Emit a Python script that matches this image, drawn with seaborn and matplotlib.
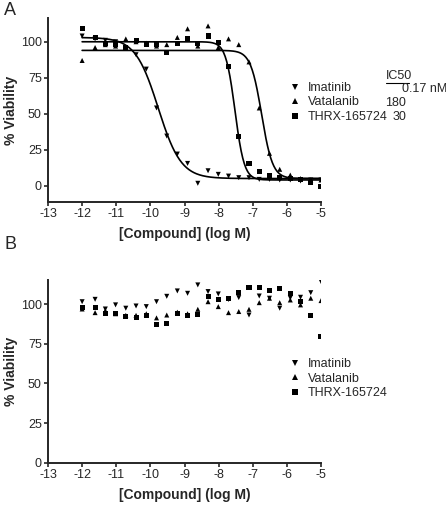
#importar bibliotecas
import numpy as np
import pandas as pd
import matplotlib
matplotlib.use('Agg')
import matplotlib.pyplot as plt
from matplotlib.lines import Line2D
import seaborn as sns

#dados (log M)
log_conc = [-12.0, -11.62, -11.32, -11.02, -10.72, -10.42, -10.12, -9.82,
            -9.52, -9.21, -8.91, -8.61, -8.31, -8.01, -7.71, -7.41,
            -7.11, -6.81, -6.51, -6.21, -5.90, -5.60, -5.30, -5.00]
compounds = ['Imatinib', 'Vatalanib', 'THRX-165724']
ic50_text = ['0.17 nM', '180', '30']

#painel A
imatinib_a = [104, 102, 101, 100, 96, 91, 81, 54, 34.5, 22, 15.5, 1.7,
              10.4, 7.9, 6.7, 5.6, 5.6, 4.4, 4.4, 4.0, 4.0, 3.3, 4.0, 4.0]
vatalanib_a = [87, 96, 98, 97, 102, 100, 99, 97, 98, 103, 109, 97,
               111, 96, 102, 98, 86, 54, 22.5, 11.4, 7.4, 5, 4, 4]
thrx_a = [109, 103, 98.6, 98.2, 96, 101, 98.2, 98.2, 92.6, 98.8, 102.3, 98.8,
          104, 99.3, 82.6, 34.5, 15.5, 9.7, 7.4, 6, 5, 4, 2, -0.2]

#painel B
imatinib_b = [101.6, 103.1, 97, 99.6, 97.5, 98.9, 98.5, 101.6, 105, 108.4, 106.9, 112.2,
              108, 106.5, 103, 104.2, 93.2, 105.2, 103.8, 97.5, 104, 104.4, 107.3, 114.3]
vatalanib_b = [97, 94.7, 96, 94, 93, 93, 94, 91.4, 93.2, 95, 94, 96.8,
               101.6, 98.5, 94.7, 95.4, 96.8, 101, 103.8, 101, 102.7, 99.6, 103.8, 102.3]
thrx_b = [98.1, 98.1, 94.3, 94.3, 92.2, 91.5, 93, 87.4, 88, 94.3, 92.6, 93.7,
          104.8, 102.7, 103.5, 107.5, 110.5, 110.5, 108.6, 109.7, 106.5, 101.6, 92.6, 79.5]

#parametros do ajuste (top, bottom, logIC50, hill)
fit_top = [103, 94, 100]
fit_bottom = [5, 5, 4]
fit_logic50 = [-9.77, -6.74, -7.52]
fit_hill = [1.3, 2.7, 3.2]

markers = {'Imatinib': 'v', 'Vatalanib': '^', 'THRX-165724': 's'}

def long_df(series):
    rows = []
    for name, vals in zip(compounds, series):
        for x, y in zip(log_conc, vals):
            rows.append({'logM': x, 'viab': y, 'comp': name})
    return pd.DataFrame(rows)

df_a = long_df([imatinib_a, vatalanib_a, thrx_a])
df_b = long_df([imatinib_b, vatalanib_b, thrx_b])

#curvas ajustadas
xs = np.linspace(-12, -5, 300)
curves = []
for i, name in enumerate(compounds):
    ys = fit_bottom[i] + (fit_top[i] - fit_bottom[i]) / (1 + 10 ** ((xs - fit_logic50[i]) * fit_hill[i]))
    curves.append(pd.DataFrame({'logM': xs, 'viab': ys, 'comp': name}))
df_fit = pd.concat(curves)

sns.set_style('ticks')
plt.rcParams['font.family'] = ['Liberation Sans', 'DejaVu Sans']
plt.rcParams['axes.unicode_minus'] = False

W, H = 446, 508
fig = plt.figure(figsize=(W / 100, H / 100), dpi=100)
ax_a = fig.add_axes([48 / W, 1 - 202 / H, 273 / W, 184 / H])
ax_b = fig.add_axes([48 / W, 1 - 462.7 / H, 273 / W, 182.7 / H])

sns.lineplot(data=df_fit, x='logM', y='viab', units='comp', estimator=None,
             color='black', linewidth=1.2, ax=ax_a, legend=False)
for ax, df in [(ax_a, df_a), (ax_b, df_b)]:
    sns.scatterplot(data=df, x='logM', y='viab', style='comp', markers=markers,
                    color='black', s=13, linewidth=0, ax=ax, legend=False)

ax_a.set_ylim(-11.3, 116.5)
ax_b.set_ylim(0, 115.3)
for ax in [ax_a, ax_b]:
    ax.set_xlim(-13, -5)
    ax.set_xticks(range(-13, -4))
    ax.set_yticks([0, 25, 50, 75, 100])
    for sp in ['top', 'right']:
        ax.spines[sp].set_visible(False)
    for sp in ['left', 'bottom']:
        ax.spines[sp].set_linewidth(1.4)
    ax.tick_params(length=3, width=1.2, labelsize=9, pad=1.5)
    ax.set_xlabel('[Compound] (log M)', fontsize=10, fontweight='bold', labelpad=5)
    ax.set_ylabel('% Viability', fontsize=10, fontweight='bold', labelpad=2)

#legendas
handles = [Line2D([], [], marker=markers[c], color='black', linestyle='none',
                  markersize=4.3, markeredgewidth=0)
           for c in compounds]
for ax, ytop in [(ax_a, 82), (ax_b, 358)]:
    ax.legend(handles, compounds, loc='upper left', bbox_to_anchor=(290 / W, 1 - ytop / H),
              bbox_transform=fig.transFigure, frameon=False, fontsize=9,
              handlelength=0.8, handletextpad=0.6, labelspacing=0.2,
              borderpad=0, borderaxespad=0)

fig.text(386 / W, 1 - 76 / H, 'IC50', fontsize=9, va='center', ha='left')
fig.add_artist(Line2D([386 / W, 409 / W], [1 - 83 / H, 1 - 83 / H], color='black', linewidth=0.8))
fig.text(402 / W, 1 - 89.5 / H, ic50_text[0], fontsize=9, va='center', ha='left')
fig.text(406 / W, 1 - 103 / H, ic50_text[1], fontsize=9, va='center', ha='right')
fig.text(406 / W, 1 - 117 / H, ic50_text[2], fontsize=9, va='center', ha='right')

fig.text(4 / W, 1 - 2 / H, 'A', fontsize=13, va='top', ha='left')
fig.text(4 / W, 1 - 236 / H, 'B', fontsize=13, va='top', ha='left')

fig.savefig('out.png', dpi=100)
